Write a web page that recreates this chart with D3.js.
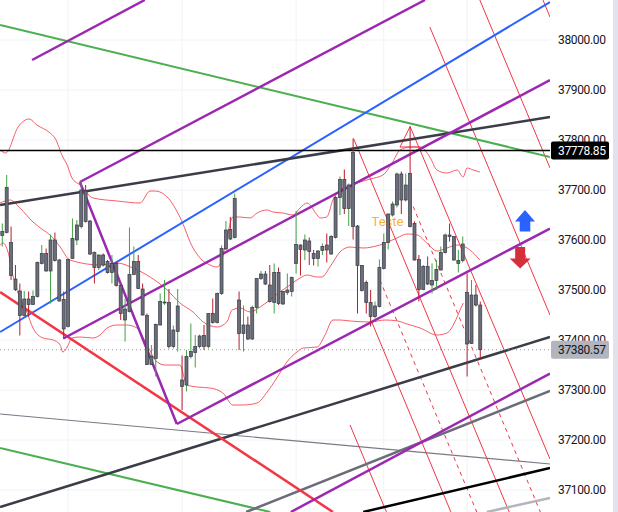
<!DOCTYPE html>
<meta charset="utf-8">
<style>
body{margin:0;background:#fff}
svg{display:block;font-family:Roboto,"Noto Sans",sans-serif}
</style>
<script src="https://cdn.jsdelivr.net/npm/d3@7"></script>
<svg width="618" height="512"></svg>
<script>
// candles
const opens  = [37609,37615,37595,37522,37498,37449,37482,37471,37487,37553,37573,37538,37600,37560,37481,37427,37563,37600,37627,37698,
                37638,37575,37545,37570,37557,37535,37553,37509,37440,37457,37531,37557,37502,37449,37351,37363,37430,37474,37475,37387,
                37417,37320,37310,37367,37375,37387,37409,37387,37453,37435,37493,37582,37621,37605,37480,37413,37430,37402,37465,37523,
                37532,37510,37475,37535,37472,37495,37497,37553,37590,37580,37598,37573,37563,37579,37590,37572,37605,37685,37721,37663,
                37775,37628,37549,37515,37475,37447,37467,37543,37595,37650,37670,37732,37680,37733,37633,37561,37501,37547,37510,37519,
                37540,37575,37610,37607,37553,37559,37495,37393,37490,37470];
const highs  = [37633,37730,37627,37550,37513,37498,37497,37499,37557,37590,37583,37611,37615,37562,37497,37563,37643,37640,37720,37710,
                37640,37577,37571,37573,37560,37570,37557,37510,37483,37625,37587,37570,37513,37453,37390,37433,37493,37520,37502,37429,
                37502,37369,37380,37433,37410,37411,37430,37453,37483,37495,37589,37638,37646,37693,37497,37469,37447,37469,37523,37538,
                37538,37550,37553,37545,37498,37533,37527,37658,37591,37611,37605,37580,37580,37593,37613,37610,37688,37727,37741,37713,
                37803,37630,37550,37519,37500,37477,37561,37613,37653,37677,37735,37737,37733,37827,37637,37570,37550,37567,37553,37560,
                37587,37613,37633,37608,37580,37607,37533,37520,37510,37477];
const lows   = [37587,37613,37520,37498,37409,37447,37447,37470,37485,37551,37537,37473,37557,37477,37403,37425,37562,37590,37623,37635,
                37570,37513,37540,37547,37533,37513,37507,37440,37397,37455,37530,37502,37449,37350,37350,37327,37429,37470,37383,37383,
                37377,37260,37297,37363,37345,37383,37380,37383,37433,37433,37490,37580,37600,37603,37380,37377,37400,37400,37453,37520,
                37510,37475,37453,37470,37470,37490,37487,37533,37529,37560,37550,37549,37547,37570,37555,37570,37603,37650,37652,37628,
                37601,37453,37497,37453,37427,37443,37465,37541,37581,37647,37665,37652,37677,37625,37559,37477,37500,37510,37493,37500,
                37539,37573,37597,37559,37535,37555,37327,37392,37467,37361];
const closes = [37617,37705,37529,37501,37449,37482,37471,37487,37555,37573,37538,37600,37559,37478,37422,37561,37603,37630,37700,37637,
                37572,37545,37570,37550,37535,37553,37509,37453,37462,37531,37557,37503,37450,37351,37367,37431,37477,37476,37387,37420,
                37468,37307,37367,37377,37387,37408,37387,37453,37435,37493,37583,37620,37602,37683,37413,37430,37402,37465,37523,37532,
                37512,37477,37535,37473,37497,37500,37525,37591,37581,37600,37577,37563,37578,37587,37580,37607,37685,37721,37663,37710,
                37627,37549,37499,37475,37447,37468,37545,37595,37652,37672,37732,37680,37710,37627,37560,37501,37547,37512,37519,37541,
                37575,37610,37607,37560,37559,37592,37392,37490,37470,37380.57];

const priceTicks = d3.range(37100, 38001, 100);
const timeGrid = [15, 41, 67, 87, 106];
const lastPrice = 37380.57;
const markedLevel = 37778.85;

// bollinger bands: [bar index, price]
const bbUpper = [[-0.5,37780],[0.8,37774],[3.6,37826],[6.1,37842],[7.9,37830],[10.9,37814],[12,37804],[13.8,37766],[14.8,37750],
  [15.9,37724],[17.7,37710],[20.7,37684],[26.2,37678],[31.4,37674],[33.7,37698],[34.8,37698],[37.6,37686],[40.5,37646],[43.5,37584],
  [45.8,37558],[47.4,37550],[49,37546],[49.9,37556],[51.2,37604],[52.6,37646],[54.2,37646],[56.5,37644],[58.1,37654],[60.4,37660],
  [61.7,37656],[64,37654],[66.3,37650],[67.9,37664],[69.5,37674],[71.8,37650],[72.5,37644],[74,37646],[75.4,37680],[77,37700],
  [78.6,37706],[80.9,37714],[83.9,37722],[86.8,37730],[88.9,37754],[90.7,37780],[93,37786],[95.3,37786],[97.5,37766],[99.1,37740],
  [101.4,37734],[103.7,37740],[105.1,37726],[106,37744],[107.4,37740],[108.9,37736]];
const bbMid = [[-0.5,37674],[1.8,37680],[4,37664],[7,37636],[9.3,37620],[10.9,37610],[13.2,37586],[15.4,37560],[22.3,37550],
  [26.2,37554],[29.8,37544],[33.7,37526],[37.6,37500],[40.5,37474],[43.5,37456],[45.8,37436],[49,37426],[51.2,37436],[52.4,37460],
  [54.2,37464],[56.5,37456],[58.8,37466],[61,37480],[63.3,37496],[65.6,37510],[67.9,37524],[69.5,37530],[71.8,37526],[72.9,37526],
  [74.7,37546],[77,37576],[79.3,37586],[82.3,37584],[86.1,37590],[90,37604],[92.3,37612],[94.6,37610],[96.8,37594],[99.1,37578],
  [101.4,37584],[103.7,37590],[106,37584],[108.3,37566],[108.9,37560]];
const bbLower = [[-0.5,37590],[0.2,37594],[1.3,37576],[2.4,37530],[4,37484],[5.6,37456],[7,37424],[9.3,37404],[11.6,37400],
  [13.2,37390],[13.8,37376],[14.8,37386],[15.9,37404],[17.7,37406],[20.7,37404],[22.3,37410],[23.9,37424],[26.2,37430],[28.4,37430],
  [30.7,37424],[33,37390],[35.3,37356],[37.1,37350],[40.5,37350],[42.1,37310],[44.4,37306],[47.4,37304],[50.3,37294],[52.6,37270],
  [54.9,37270],[58.1,37274],[60.4,37296],[62.6,37324],[64.9,37356],[67.2,37376],[68.6,37384],[71.8,37386],[73.6,37410],[75.4,37440],
  [77,37440],[79.3,37438],[83.9,37436],[87.3,37440],[90.2,37438],[92.3,37432],[95.3,37424],[99.1,37410],[101.4,37414],[103.2,37436],
  [104.4,37460],[105.1,37474]];

// trend lines: [index1, price1, index2, price2]
const greenLines  = [[-0.5,38030,124.9,37766],[-0.5,37184,61.1,37056]];
const purpleLines = [[6.8,37960,32.5,38080],[17.7,37716,96.4,38080],[13.9,37403,124.9,37920],[17.7,37716,39.8,37232],
                     [39.8,37232,124.9,37623],[65.8,37056,124.9,37333]];
const blueLines   = [[-0.5,37416,124.9,38076]];
const darkLines   = [[-0.5,37670,124.9,37846],[-0.5,37066,124.9,37406]];
const greyLines   = [[55.6,37056,124.9,37298]];
const thinGreyLines = [[-0.5,37252,124.9,37152]];
const lightGreyLines = [[110.5,37056,124.9,37084]];
const blackLines  = [[82.3,37056,124.9,37144]];
const redThick    = [[-0.5,37496,75.4,37056]];
const forkSolid   = [[80.1,37803,115.6,37056],[93,37827,124.9,37162],[97.5,38026,124.9,37450],[108.9,38080,124.9,37744],
                     [123.3,38080,124.9,38046],[79.3,37230,87.6,37056],[84.2,37437,102.3,37056],[93,37827,90.7,37786],
                     [90.7,37786,95.3,37786]];
const forkDashed  = [[86.1,37520,108.2,37056],[93.7,37667,122.7,37056]];

const note = {text: 'Teste', i: 84.2, p: 37628};
const upArrow = {i: 119.2, p: 37660};
const downArrow = {i: 118.1, p: 37543};

const svg = d3.select('svg');
const plotW = 550, H = 512;

const x = d3.scaleLinear().domain([0, 109]).range([2.3, 2.3 + 109 * 4.385]);
const y = d3.scaleLinear().domain([37100, 38000]).range([490, 40]);

svg.append('defs').append('clipPath').attr('id', 'plot')
  .append('rect').attr('width', plotW).attr('height', H);

// grid
const grid = svg.append('g').attr('clip-path', 'url(#plot)');
grid.selectAll('.hg').data(priceTicks).enter().append('line')
  .attr('x1', 0).attr('x2', plotW).attr('y1', d => y(d)).attr('y2', d => y(d))
  .attr('stroke', '#f0f2f6');
grid.selectAll('.vg').data(timeGrid).enter().append('line')
  .attr('x1', d => x(d)).attr('x2', d => x(d)).attr('y1', 0).attr('y2', H)
  .attr('stroke', '#f0f2f6');

const plot = svg.append('g').attr('clip-path', 'url(#plot)');

// bands
const band = d3.line().x(d => x(d[0])).y(d => y(d[1])).curve(d3.curveMonotoneX);
[bbUpper, bbMid, bbLower].forEach(b => {
  plot.append('path').attr('d', band(b)).attr('fill', 'none')
    .attr('stroke', '#f23645').attr('stroke-opacity', 0.8).attr('stroke-width', 1);
});

function drawLines(data, color, width, dash) {
  plot.append('g').selectAll('line').data(data).enter().append('line')
    .attr('x1', d => x(d[0])).attr('y1', d => y(d[1]))
    .attr('x2', d => x(d[2])).attr('y2', d => y(d[3]))
    .attr('stroke', color).attr('stroke-width', width)
    .attr('stroke-dasharray', dash || null);
}

drawLines(thinGreyLines, '#787b86', 1.2);
drawLines(forkSolid, '#f23645', 1);
drawLines(forkDashed, '#f23645', 1, '4,4');
drawLines(greenLines, '#4caf50', 2);
drawLines(blueLines, '#2962ff', 2);
drawLines(darkLines, '#3a3d47', 2.5);
drawLines(greyLines, '#6a6d78', 2.5);
drawLines(lightGreyLines, '#b2b5be', 2.5);
drawLines(blackLines, '#000', 2.5);
drawLines(redThick, '#f23645', 2.5);
drawLines(purpleLines, '#9c27b0', 2.5);

// marked level and last price
plot.append('line').attr('x1', 0).attr('x2', plotW)
  .attr('y1', y(markedLevel)).attr('y2', y(markedLevel))
  .attr('stroke', '#000').attr('stroke-width', 1.5);
plot.append('line').attr('x1', 0).attr('x2', plotW)
  .attr('y1', y(lastPrice)).attr('y2', y(lastPrice))
  .attr('stroke', '#9598a1').attr('stroke-dasharray', '1,3');

plot.append('text').attr('x', x(note.i)).attr('y', y(note.p))
  .attr('font-size', 13).attr('fill', '#f5b335').text(note.text);

// candles
const bars = d3.range(opens.length);
const cg = plot.append('g');
cg.selectAll('.wick').data(bars).enter().append('line')
  .attr('x1', i => x(i)).attr('x2', i => x(i))
  .attr('y1', i => y(highs[i])).attr('y2', i => y(lows[i]))
  .attr('stroke', i => closes[i] >= opens[i] ? '#43a047' : '#b71c2c')
  .attr('stroke-width', 1);
cg.selectAll('.body').data(bars).enter().append('rect')
  .attr('x', i => x(i) - 1.5).attr('width', 3)
  .attr('y', i => y(Math.max(opens[i], closes[i])))
  .attr('height', i => Math.max(1, Math.abs(y(opens[i]) - y(closes[i]))))
  .attr('fill', '#6b6e78').attr('stroke', '#363a45').attr('stroke-width', 0.7);

// arrows
const ua = plot.append('g').attr('transform', `translate(${x(upArrow.i)},${y(upArrow.p)})`);
ua.append('path').attr('d', 'M0,0 L10,11.5 L5.3,11.5 L5.3,21.5 L-5.3,21.5 L-5.3,11.5 L-10,11.5 Z').attr('fill', '#2962ff');
const da = plot.append('g').attr('transform', `translate(${x(downArrow.i)},${y(downArrow.p)})`);
da.append('path').attr('d', 'M0,0 L10.5,-10 L5,-10 L5,-21.5 L-5,-21.5 L-5,-10 L-10.5,-10 Z').attr('fill', '#d32f3c');

// price axis
const axis = svg.append('g').attr('transform', `translate(${plotW},0)`)
  .call(d3.axisRight(y).tickValues(priceTicks).tickFormat(d3.format('.2f')).tickSize(0).tickPadding(8));
axis.select('.domain').remove();
axis.selectAll('text').attr('font-size', 12).attr('fill', '#131722')
  .attr('font-family', 'Roboto, sans-serif').attr('letter-spacing', '-0.35px');

function priceLabel(v, bg, fg) {
  const g = svg.append('g').attr('transform', `translate(${plotW + 1},${y(v)})`);
  g.append('rect').attr('x', 0).attr('y', -9).attr('width', 58).attr('height', 18).attr('rx', 2).attr('fill', bg);
  g.append('text').attr('x', 7).attr('dy', '0.35em').attr('font-size', 12).attr('fill', fg)
    .attr('letter-spacing', '-0.35px').text(d3.format('.2f')(v));
}
priceLabel(markedLevel, '#000', '#fff');
priceLabel(lastPrice, '#b2b5be', '#131722');

svg.append('rect').attr('x', 613).attr('y', 0).attr('width', 5).attr('height', H).attr('fill', '#e0e3eb');
</script>
